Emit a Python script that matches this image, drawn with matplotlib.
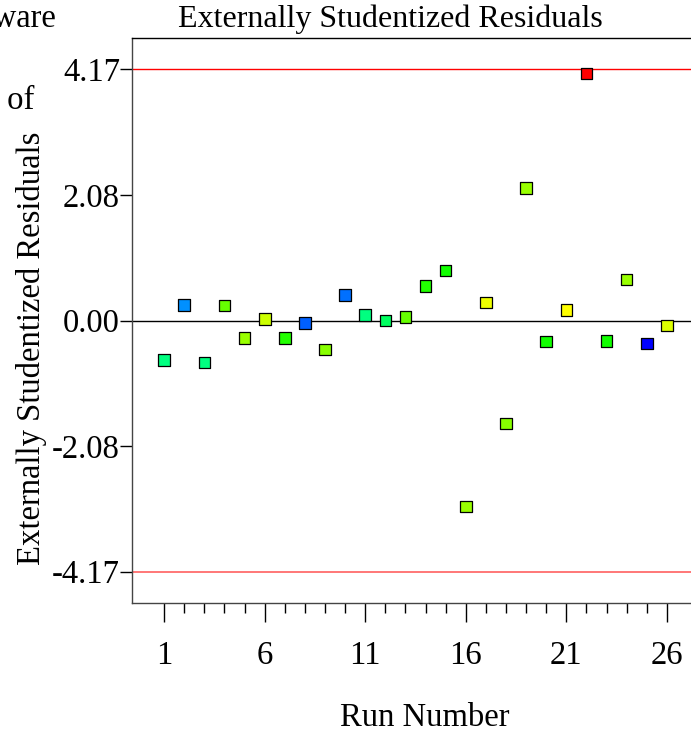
import matplotlib
matplotlib.use('Agg')
import matplotlib.pyplot as plt
from matplotlib.ticker import FixedLocator

# ── Data ──────────────────────────────────────────────────────────────────────
runs = list(range(1, 27))
residuals = [-0.66, 0.26, -0.70, 0.25, -0.29, 0.03, -0.29, -0.04, -0.48, 0.42,
             0.09, 0.00, 0.06, 0.57, 0.83, -3.09, 0.30, -1.71, 2.20, -0.35,
             0.17, 4.10, -0.34, 0.68, -0.38, -0.08]
point_colors = ['#00ff80', '#0090ff', '#00ff80', '#66ff00', '#99ff00', '#ccff00',
                '#22ff00', '#0060ff', '#88ff00', '#0070ff', '#00ff80', '#00ff60',
                '#66ff00', '#22ff00', '#11ff00', '#99ff00', '#eeff00', '#88ff00',
                '#99ff00', '#11ff00', '#ffff00', '#ff0000', '#11ff00', '#99ff00',
                '#0000ff', '#ddff00']
limit = 4.17
y_ticks = [-4.17, -2.08, 0.00, 2.08, 4.17]
x_ticks = [1, 6, 11, 16, 21, 26]

plt.rcParams['font.family'] = ['Liberation Serif', 'DejaVu Serif']
FS = 23.5
PT = 72 / 100  # points per pixel at dpi 100

W, H = 691, 733
fig = plt.figure(figsize=(W / 100, H / 100), dpi=100)
ax = fig.add_axes([132 / W, 1 - 603 / H, (W - 132) / W, (603 - 38) / H])

ax.axhline(limit, color='red', lw=1.0, zorder=1)
ax.axhline(-limit, color='#ff6060', lw=1.2, zorder=1)
ax.axhline(0, color='black', lw=1.0, zorder=1)

ax.scatter(runs, residuals, marker='s', s=70, c=point_colors,
           edgecolors='black', linewidths=0.9, zorder=3)

ax.set_xlim(-0.6, 27.2)
ax.set_ylim(-4.69, 4.69)

ax.yaxis.set_major_locator(FixedLocator(y_ticks))
ax.set_yticklabels([f'{v:.2f}' for v in y_ticks])
ax.xaxis.set_major_locator(FixedLocator(x_ticks))
ax.xaxis.set_minor_locator(FixedLocator(runs))

ax.tick_params(axis='y', direction='out', length=12 * PT, width=1, pad=0,
               labelsize=FS)
ax.tick_params(axis='x', which='major', direction='out', length=19 * PT, width=1,
               pad=13, labelsize=FS)
ax.tick_params(axis='x', which='minor', direction='out', length=10 * PT, width=1)

ax.spines['right'].set_visible(False)
for side in ['left', 'bottom', 'top']:
    ax.spines[side].set_linewidth(1.0)
ax.spines['left'].set_color('#444444')
ax.spines['bottom'].set_color('#444444')

fig.text(390 / W, 1 - 19 / H, 'Externally Studentized Residuals', fontsize=23,
         ha='center', va='center')
fig.text(32 / W, 1 - 348 / H, 'Externally Studentized Residuals', rotation=90,
         fontsize=FS, ha='center', va='center')
fig.text(425 / W, 1 - 718 / H, 'Run Number', fontsize=FS,
         ha='center', va='center')

# clipped text from the neighbouring legend panel
fig.text(56 / W, 1 - 18 / H, 'Design-Expert\u00ae Software', fontsize=FS,
         ha='right', va='center')
fig.text(34 / W, 1 - 100 / H, 'Color points by value of', fontsize=FS,
         ha='right', va='center')

fig.savefig('out.png', dpi=100)
